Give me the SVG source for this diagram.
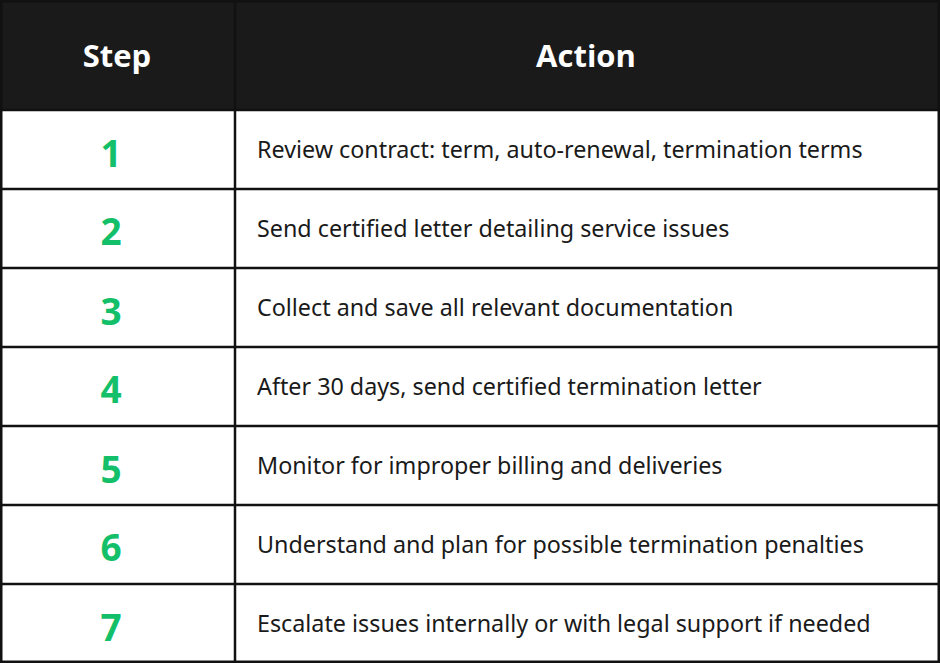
<svg xmlns="http://www.w3.org/2000/svg" width="940" height="663" viewBox="0 0 940 663">
<style>
.h{font-family:"Open Sans","Noto Sans",sans-serif;font-weight:700;font-size:31px;fill:#fff;text-anchor:middle}
.n{font-family:"Open Sans","Noto Sans",sans-serif;font-weight:700;font-size:37px;fill:#14bf6a;text-anchor:middle}
.t{font-family:"Noto Sans","Open Sans",sans-serif;font-size:23.3px;fill:#1a1a1a}
.ln{stroke:#111;stroke-width:2.5}
</style>
<rect x="0" y="0" width="940" height="663" fill="#fff"/>
<g id="header"><rect x="0" y="0" width="940" height="110" fill="#1a1a1a"/>
<text class="h" x="117" y="67">Step</text><text class="h" x="586" y="67">Action</text></g>
<g id="grid" class="ln" fill="none">
<rect x="1.25" y="1.25" width="937.5" height="660.5"/>
<line x1="235" y1="0" x2="235" y2="663"/>
<line x1="0" y1="189" x2="940" y2="189"/><line x1="0" y1="268" x2="940" y2="268"/>
<line x1="0" y1="347" x2="940" y2="347"/><line x1="0" y1="426" x2="940" y2="426"/>
<line x1="0" y1="505" x2="940" y2="505"/><line x1="0" y1="584" x2="940" y2="584"/>
<line x1="0" y1="110" x2="940" y2="110"/>
</g>
<g id="row1"><text class="n" x="111" y="167">1</text><text class="t" x="257" y="158">Review contract: term, auto-renewal, termination terms</text></g>
<g id="row2"><text class="n" x="111" y="245">2</text><text class="t" x="257" y="237">Send certified letter detailing service issues</text></g>
<g id="row3"><text class="n" x="111" y="325">3</text><text class="t" x="257" y="316">Collect and save all relevant documentation</text></g>
<g id="row4"><text class="n" x="111" y="403">4</text><text class="t" x="257" y="395">After 30 days, send certified termination letter</text></g>
<g id="row5"><text class="n" x="111" y="483">5</text><text class="t" x="257" y="474">Monitor for improper billing and deliveries</text></g>
<g id="row6"><text class="n" x="111" y="561">6</text><text class="t" x="257" y="553">Understand and plan for possible termination penalties</text></g>
<g id="row7"><text class="n" x="111" y="641">7</text><text class="t" x="257" y="632">Escalate issues internally or with legal support if needed</text></g>
</svg>
